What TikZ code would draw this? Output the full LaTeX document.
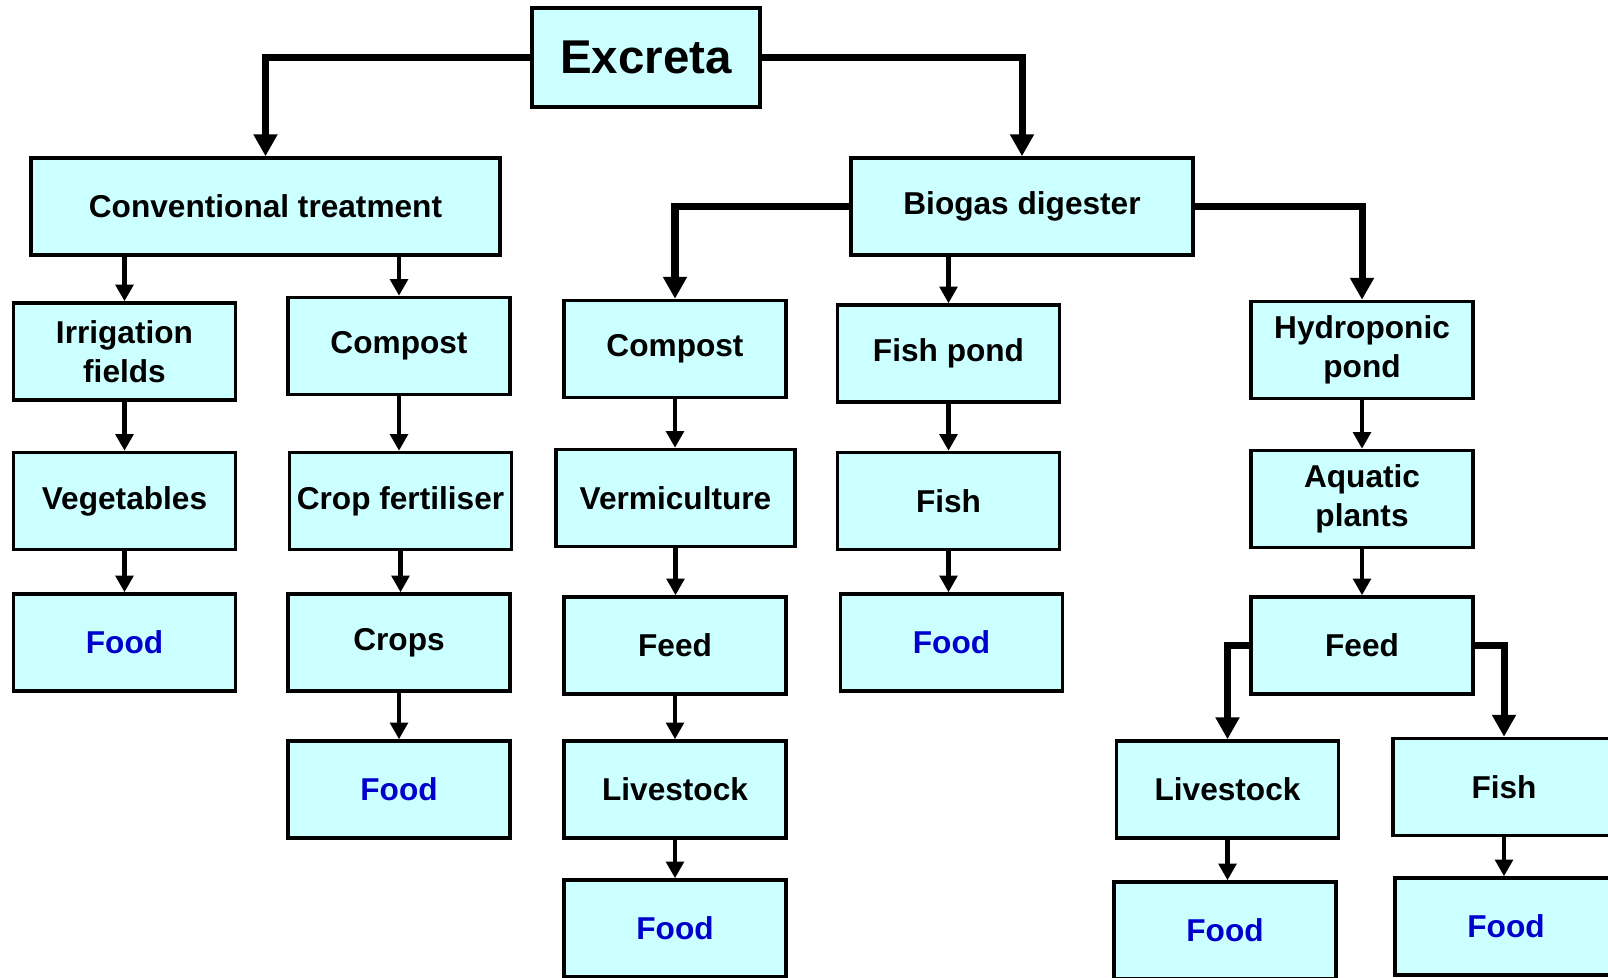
\documentclass[tikz,border=0pt]{standalone}
\usepackage{fontspec}
\setmainfont{Liberation Sans}
\usepackage{tikz}
\usetikzlibrary{arrows.meta}
\definecolor{BoxCyan}{RGB}{204,255,255}
\definecolor{FoodBlue}{RGB}{0,0,204}

\begin{document}
\begin{tikzpicture}[x=0.02cm,y=-0.02cm,
  box/.style={draw,line width=2pt,fill=BoxCyan,minimum width=4.44cm,minimum height=1.94cm,inner sep=0pt,align=center,font=\fontsize{18}{22}\selectfont\bfseries},
  food/.style={box,text=FoodBlue},
  big/.style={line width=4pt,-{Triangle[width=13pt,length=12.5pt]}},
  small/.style={line width=2.3pt,-{Triangle[width=10pt,length=9.5pt]}}]
\useasboundingbox (0,0) rectangle (1608,977);
% top levels
\node[box,minimum width=4.56cm,minimum height=1.98cm,font=\fontsize{27}{30}\selectfont\bfseries] (ex) at (646,57.5) {Excreta};
\node[box,minimum width=9.38cm] (conv) at (265.5,206.5) {Conventional treatment};
\node[box,minimum width=6.84cm] (bio) at (1022,206.5) {Biogas digester};
% conventional branch
\node[box] (irr) at (124.5,351.5) {Irrigation\\fields};
\node[box] (veg) at (124.5,501) {Vegetables};
\node[food] (foodveg) at (124.5,642.5) {Food};
\node[box] (compl) at (399,346) {Compost};
\node[box] (fert) at (400.5,501) {Crop fertiliser};
\node[box] (crops) at (399,642.5) {Crops};
\node[food] (foodcrops) at (399,789.5) {Food};
% biogas branch
\node[box] (compr) at (675,349) {Compost};
\node[box,minimum width=4.78cm] (verm) at (675.5,498) {Vermiculture};
\node[box] (feedl) at (675,645.5) {Feed};
\node[box] (livel) at (675,789.5) {Livestock};
\node[food] (foodlive) at (675,928.5) {Food};
\node[box] (pond) at (948.5,353.5) {Fish pond};
\node[box] (fishl) at (948.5,501) {Fish};
\node[food] (foodfish) at (951.5,642.5) {Food};
\node[box] (hydro) at (1362,350) {Hydroponic\\pond};
\node[box] (aqua) at (1362,499) {Aquatic\\plants};
\node[box] (feedr) at (1362,645.5) {Feed};
\node[box] (liver) at (1227.5,789.5) {Livestock};
\node[food] (foodliver) at (1225,930.5) {Food};
\node[box] (fishr) at (1504,787) {Fish};
\node[food] (foodfishr) at (1506,926.5) {Food};
% connectors
\draw[big] (ex.west) -| (conv.north);
\draw[big] (ex.east) -| (bio.north);
\draw[big] (bio.west) -| (compr.north);
\draw[big] (bio.east) -| (hydro.north);
\draw[big] (feedr.west) -| (liver.north);
\draw[big] (feedr.east) -| (fishr.north);
\draw[small] (irr.north |- conv.south) -- (irr.north);
\draw[small] (compl.north |- conv.south) -- (compl.north);
\draw[small] (pond.north |- bio.south) -- (pond.north);
\foreach \a/\b in {irr/veg,veg/foodveg,compl/fert,fert/crops,crops/foodcrops,
  compr/verm,verm/feedl,feedl/livel,livel/foodlive,pond/fishl,fishl/foodfish,
  hydro/aqua,aqua/feedr,liver/foodliver,fishr/foodfishr}
  \draw[small] (\a.south) -- (\a.south |- \b.north);
\end{tikzpicture}
\end{document}
